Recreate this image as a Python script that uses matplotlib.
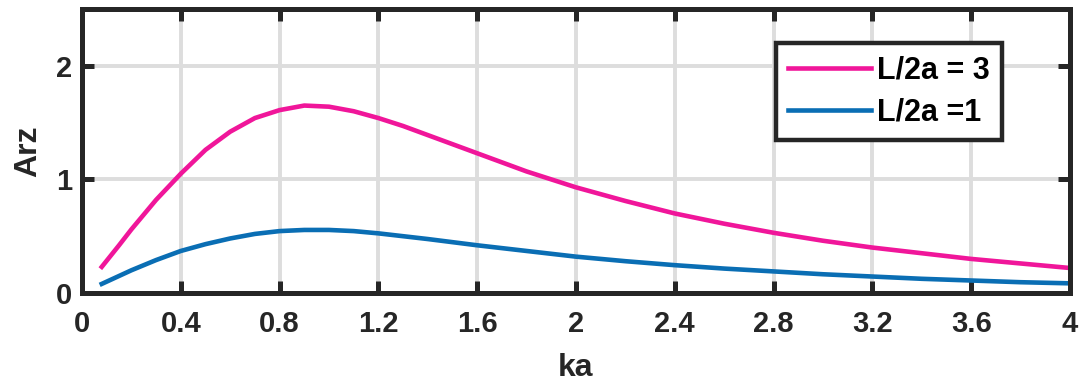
import matplotlib
matplotlib.use("Agg")
import matplotlib.pyplot as plt

plt.rcParams['font.family'] = ['Liberation Sans', 'DejaVu Sans']
plt.rcParams['font.weight'] = 'bold'

ka = [0.08, 0.15, 0.2, 0.3, 0.4, 0.5, 0.6, 0.7, 0.8, 0.9, 1.0, 1.1, 1.2, 1.3,
      1.4, 1.6, 1.8, 2.0, 2.2, 2.4, 2.6, 2.8, 3.0, 3.2, 3.4, 3.6, 3.8, 4.0]
arz_L3 = [0.23, 0.42, 0.56, 0.82, 1.05, 1.26, 1.42, 1.54, 1.61, 1.65, 1.64, 1.60,
          1.54, 1.47, 1.39, 1.23, 1.07, 0.93, 0.81, 0.70, 0.61, 0.53, 0.46, 0.40,
          0.35, 0.30, 0.26, 0.22]
arz_L1 = [0.08, 0.15, 0.20, 0.29, 0.37, 0.43, 0.48, 0.52, 0.545, 0.555, 0.555,
          0.545, 0.525, 0.50, 0.475, 0.42, 0.37, 0.32, 0.28, 0.245, 0.215, 0.19,
          0.165, 0.145, 0.125, 0.11, 0.095, 0.085]
labels = ['L/2a = 3', 'L/2a =1']
xticks = [0, 0.4, 0.8, 1.2, 1.6, 2, 2.4, 2.8, 3.2, 3.6, 4]
xticklabels = ['0', '0.4', '0.8', '1.2', '1.6', '2', '2.4', '2.8', '3.2', '3.6', '4']
yticks = [0, 1, 2]

dark = '#262626'
fig = plt.figure(figsize=(10.82, 3.85), dpi=100)
ax = fig.add_axes([82 / 1082, 92 / 385, 988 / 1082, 284 / 385])

ax.plot(ka, arz_L3, color='#F0169A', lw=3.3, label=labels[0])
ax.plot(ka, arz_L1, color='#0A6EB4', lw=3.3, label=labels[1])

ax.set_xlim(0, 4)
ax.set_ylim(0, 2.5)
ax.set_xticks(xticks)
ax.set_xticklabels(xticklabels)
ax.set_yticks(yticks)

ax.grid(True, color='#DDDDDD', lw=2.8)
ax.set_axisbelow(True)
for s in ax.spines.values():
    s.set_linewidth(3.6)
    s.set_color(dark)
ax.tick_params(direction='in', length=8.5, width=3.6, color=dark,
               top=True, right=True, labelsize=21, labelcolor=dark)
ax.tick_params(axis='x', pad=12)
ax.tick_params(axis='y', pad=7)

ax.set_xlabel('ka', fontsize=23, fontweight='bold', color=dark, labelpad=11)
ax.set_ylabel('Arz', fontsize=23, fontweight='bold', color=dark, labelpad=9)

leg = ax.legend(loc='upper right', bbox_to_anchor=(1002 / 1082, 1 - 43 / 385),
                bbox_transform=fig.transFigure, borderaxespad=0,
                fancybox=False, framealpha=1, edgecolor=dark,
                prop={'size': 22, 'weight': 'bold'},
                handlelength=2.7, handletextpad=0.2, labelspacing=0.4,
                borderpad=0.4)
leg.get_frame().set_linewidth(3.2)
for t in leg.get_texts():
    t.set_color('black')

fig.savefig('out.png', dpi=100)
